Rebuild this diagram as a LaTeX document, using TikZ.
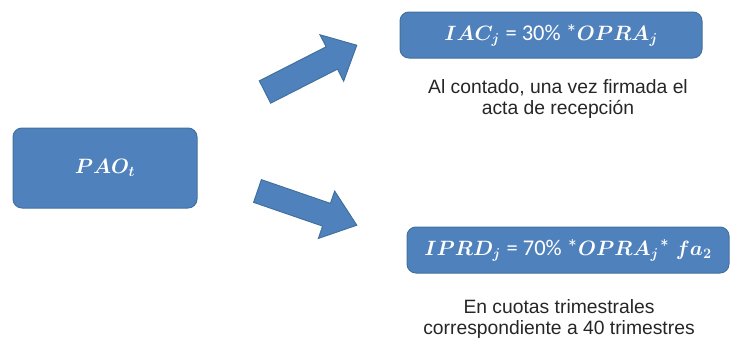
\documentclass[tikz,border=0pt]{standalone}
\usepackage{amsmath}
\usepackage{fontspec}
\setmainfont{Liberation Sans}
\newfontfamily\carlito{Carlito}
\usetikzlibrary{arrows.meta}
\definecolor{boxblue}{HTML}{4F81BD}
\definecolor{boxline}{HTML}{41719C}

\begin{document}
\begin{tikzpicture}[x=1pt,y=-1pt]
\tikzstyle{boxstyle}=[draw=boxline, fill=boxblue, rounded corners=9pt, line width=1pt, text=white, font=\fontsize{21}{24}\selectfont\boldmath]
\tikzstyle{notestyle}=[align=center, text=black!85, font=\fontsize{19.3}{21}\selectfont]
\tikzstyle{blockarrow}=[draw=boxline, fill=boxblue, line width=1pt, line join=miter]
    \useasboundingbox (0,0) rectangle (733,340);
    \node[boxstyle, minimum width=184pt, minimum height=80pt] (pao) at (105,168) {$PAO_t$};
    \node[boxstyle, minimum width=302pt, minimum height=46pt] (iac) at (551,35) {$IAC_j$ {\carlito\fontsize{22.5}{24}\selectfont = 30\% *}$OPRA_j$};
    \node[boxstyle, minimum width=322pt, minimum height=46pt] (iprd) at (568,250) {$IPRD_j$ {\carlito\fontsize{22.5}{24}\selectfont = 70\% *}$OPRA_j${\carlito\fontsize{22.5}{24}\selectfont *} $fa_2$};
    \node[notestyle] (iacnote) at (558,99) {Al contado, una vez firmada el\\acta de recepción};
    \node[notestyle] (iprdnote) at (559,319) {En cuotas trimestrales\\correspondiente a 40 trimestres};
    % block arrows
    \draw[blockarrow, shift={(265,92)}, rotate=27] (0,-12.5) -- (75,-12.5) -- (75,-26) -- (103,0) -- (75,26) -- (75,12.5) -- (0,12.5) -- cycle;
    \draw[blockarrow, shift={(257.5,191)}, rotate=-19] (0,-12) -- (73,-12) -- (73,-25) -- (105,0) -- (73,25) -- (73,12) -- (0,12) -- cycle;
\end{tikzpicture}
\end{document}
